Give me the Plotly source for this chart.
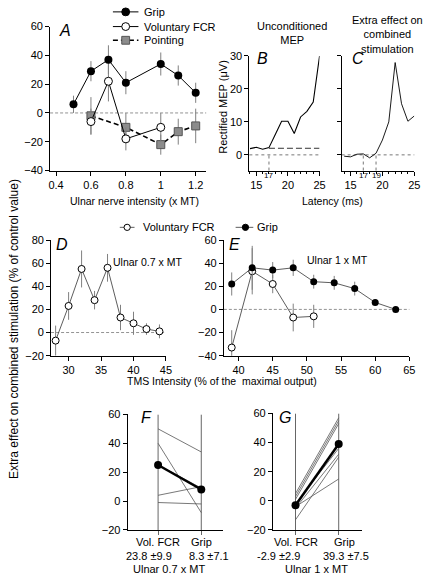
import plotly.graph_objects as go

W, H = 435, 582
def px(x): return x / W
def py(y): return 1 - y / H

FONT = "Liberation Sans, Arial, Helvetica, sans-serif"
ERRC = "#808080"

# ---------------- Panel A ----------------
a_grip_x = [0.5, 0.6, 0.7, 0.8, 1.0, 1.1, 1.2]
a_grip_y = [6, 29, 37, 21, 34, 26, 14]
a_grip_err = [6, 7, 10, 8, 8, 7, 7]
a_fcr_x = [0.6, 0.7, 0.8, 1.0]
a_fcr_y = [-6, 22, -18, -10]
a_fcr_err = [9, 14, 8, 10]
a_point_x = [0.6, 0.8, 1.0, 1.1, 1.2]
a_point_y = [-2, -10, -22, -13, -9]
a_point_err = [13, 10, 7, 9, 12]
a_xticks = [0.4, 0.6, 0.8, 1.0, 1.2]
a_xticklabels = ["0.4", "0.6", "0.8", "1", "1.2"]

# ---------------- Panels B, C ----------------
b_lat = [14, 15, 16, 17, 18, 19, 20, 21, 22, 23, 24, 25]
b_mep = [1.9, 2.3, 1.7, 2.2, 6.2, 10.2, 10.2, 6.5, 11.5, 13.2, 16, 30]
c_lat = [14, 15, 16, 17, 18, 19, 20, 21, 22, 23, 24, 25]
c_eff = [-0.4, -0.6, 0.2, 0.3, -0.9, 0.5, 4.5, 10, 28, 15.5, 10.2, 11.8]
b_baseline = 2.0
b_onset = 17
c_window = [17, 19]

# ---------------- Panel D ----------------
d_x = [28, 30, 32, 34, 36, 38, 40, 42, 44]
d_y = [-7, 23, 55, 28, 56, 13, 8, 3, 1]
d_err = [13, 12, 16, 8, 12, 11, 10, 5, 6]

# ---------------- Panel E ----------------
e_grip_x = [39, 42, 45, 48, 51, 54, 57, 60, 63]
e_grip_y = [22, 36, 34, 36, 24, 23, 18, 6, 0]
e_grip_err = [10, 19, 7, 7, 6, 6, 6, 2, 1]
e_fcr_x = [39, 42, 45, 48, 51]
e_fcr_y = [-33, 33, 22, -7, -6]
e_fcr_err = [15, 20, 8, 12, 10]

# ---------------- Panels F, G ----------------
cond_x = [1, 2]
f_vol = [50, 40, 4, -1, 25]
f_grip = [34, -8, 10, -2, 9]
f_mean = [25, 8]
g_vol = [5, 3, 1, -2, -5, -13, -4]
g_grip = [57, 55, 53, 36, 32, 30, 15]
g_mean = [-3, 39]

fig = go.Figure()

def err(vals):
    return dict(type="data", array=vals, visible=True, color=ERRC, thickness=1, width=0)

# A traces
fig.add_trace(go.Scatter(x=a_point_x, y=a_point_y, error_y=err(a_point_err), mode="lines+markers",
                         name="Pointing", line=dict(color="black", width=1.6, dash="5px,3px"),
                         marker=dict(size=8, color="#8c8c8c", symbol="square", line=dict(color="#555555", width=1)),
                         xaxis="x", yaxis="y"))
fig.add_trace(go.Scatter(x=a_fcr_x, y=a_fcr_y, error_y=err(a_fcr_err), mode="lines+markers",
                         name="Voluntary FCR", line=dict(color="black", width=1),
                         marker=dict(size=8, color="white", symbol="circle", line=dict(color="black", width=1)),
                         xaxis="x", yaxis="y"))
fig.add_trace(go.Scatter(x=a_grip_x, y=a_grip_y, error_y=err(a_grip_err), mode="lines+markers",
                         name="Grip", line=dict(color="black", width=1),
                         marker=dict(size=8, color="black", symbol="circle"),
                         xaxis="x", yaxis="y"))

# B, C traces
fig.add_trace(go.Scatter(x=b_lat, y=b_mep, mode="lines", line=dict(color="black", width=1.1),
                         name="Unconditioned MEP", xaxis="x2", yaxis="y2"))
fig.add_trace(go.Scatter(x=c_lat, y=c_eff, mode="lines", line=dict(color="black", width=0.9),
                         name="Extra effect", xaxis="x3", yaxis="y3"))

# D trace
fig.add_trace(go.Scatter(x=d_x, y=d_y, error_y=err(d_err), mode="lines+markers",
                         name="Voluntary FCR", line=dict(color="#333333", width=0.8),
                         marker=dict(size=7, color="white", line=dict(color="black", width=1)),
                         xaxis="x4", yaxis="y4"))

# E traces
fig.add_trace(go.Scatter(x=e_fcr_x, y=e_fcr_y, error_y=err(e_fcr_err), mode="lines+markers",
                         name="Voluntary FCR", line=dict(color="#333333", width=0.8),
                         marker=dict(size=7, color="white", line=dict(color="black", width=1)),
                         xaxis="x5", yaxis="y5"))
fig.add_trace(go.Scatter(x=e_grip_x, y=e_grip_y, error_y=err(e_grip_err), mode="lines+markers",
                         name="Grip", line=dict(color="#333333", width=0.8),
                         marker=dict(size=7, color="black"),
                         xaxis="x5", yaxis="y5"))

# F traces
for v, g in zip(f_vol, f_grip):
    fig.add_trace(go.Scatter(x=cond_x, y=[v, g], mode="lines", line=dict(color="#555555", width=0.8),
                             xaxis="x6", yaxis="y6"))
fig.add_trace(go.Scatter(x=cond_x, y=f_mean, mode="lines+markers", line=dict(color="black", width=2.5),
                         marker=dict(size=8, color="black"), xaxis="x6", yaxis="y6"))
# G traces
for v, g in zip(g_vol, g_grip):
    fig.add_trace(go.Scatter(x=cond_x, y=[v, g], mode="lines", line=dict(color="#555555", width=0.8),
                             xaxis="x7", yaxis="y7"))
fig.add_trace(go.Scatter(x=cond_x, y=g_mean, mode="lines+markers", line=dict(color="black", width=2.5),
                         marker=dict(size=8, color="black"), xaxis="x7", yaxis="y7"))

def xax(dom, rng, anchor, **kw):
    d = dict(domain=[px(dom[0]), px(dom[1])], range=rng, anchor=anchor, showline=True,
             linecolor="black", linewidth=1, ticks="outside", ticklen=4, tickcolor="black",
             showgrid=False, zeroline=False, tickfont=dict(size=11, color="black", family=FONT))
    d.update(kw)
    return d

def yax(dom, rng, anchor, **kw):
    d = dict(domain=[py(dom[1]), py(dom[0])], range=rng, anchor=anchor, showline=True,
             linecolor="black", linewidth=1, ticks="outside", ticklen=4, tickcolor="black",
             showgrid=False, zeroline=False, tickfont=dict(size=11, color="black", family=FONT))
    d.update(kw)
    return d

minor_ms = dict(ticks="outside", ticklen=2.5, dtick=1, tick0=0, tickcolor="black")

fig.update_layout(
    width=W, height=H, margin=dict(l=0, r=0, t=0, b=0),
    paper_bgcolor="white", plot_bgcolor="white", showlegend=False,
    font=dict(family=FONT, size=11, color="black"),
    xaxis=xax((49, 208), [0.366, 1.26], "y", tickvals=a_xticks, ticktext=a_xticklabels),
    yaxis=yax((21, 168), [-40, 60], "x", tickvals=[-40, -20, 0, 20, 40, 60]),
    xaxis2=xax((252, 323.5), [13.9, 25], "y2", tickvals=[15, 20, 25], minor=minor_ms),
    yaxis2=yax((51, 168), [-4.75, 30], "x2", tickvals=[0, 10, 20, 30]),
    xaxis3=xax((346, 420), [13.6, 25], "y3", tickvals=[15, 20, 25], minor=minor_ms),
    yaxis3=yax((51, 168), [-4.75, 30], "x3", tickvals=[0, 10, 20, 30], showticklabels=False),
    xaxis4=xax((50, 167), [27.3, 45], "y4", tickvals=[30, 35, 40, 45]),
    yaxis4=yax((239, 357), [-20, 80], "x4", tickvals=[-20, 0, 20, 40, 60, 80]),
    xaxis5=xax((226, 415), [37.85, 65], "y5", tickvals=[40, 45, 50, 55, 60, 65]),
    yaxis5=yax((239, 357), [-40, 60], "x5", tickvals=[-40, -20, 0, 20, 40, 60]),
    xaxis6=xax((128, 225), [0.295, 2.5], "y6", tickvals=cond_x, showticklabels=False, tickcolor="#666666"),
    yaxis6=yax((417, 535), [-20, 60], "x6", tickvals=[-20, 0, 20, 40, 60]),
    xaxis7=xax((276, 367), [0.477, 2.545], "y7", tickvals=cond_x, showticklabels=False, tickcolor="#666666"),
    yaxis7=yax((416, 535), [-20, 60], "x7", tickvals=[-20, 0, 20, 40, 60]),
)

shapes = []
zero_dash = dict(color="#777777", width=0.8, dash="3px,2px")
for xa, ya in [("x", "y"), ("x4", "y4"), ("x5", "y5")]:
    shapes.append(dict(type="line", xref=xa + " domain", yref=ya, x0=0, x1=1, y0=0, y1=0, line=zero_dash, layer="below"))
dot = dict(color="#777777", width=1, dash="dot")
for xa, ya in [("x2", "y2"), ("x3", "y3")]:
    shapes.append(dict(type="line", xref=xa + " domain", yref=ya, x0=0, x1=1, y0=0, y1=0, line=dot, layer="below"))
shapes.append(dict(type="line", xref="x2", yref="y2", x0=b_onset, x1=25, y0=b_baseline, y1=b_baseline,
                   line=dict(color="#333333", width=1, dash="6px,3px")))
shapes.append(dict(type="line", xref="x2", yref="y2 domain", x0=b_onset, x1=b_onset, y0=0, y1=4.75 / 34.75, line=dot))
for v in c_window:
    shapes.append(dict(type="line", xref="x3", yref="y3 domain", x0=v, x1=v, y0=0, y1=4.75 / 34.75, line=dot))
for xa, ya in [("x6", "y6"), ("x7", "y7")]:
    for c in cond_x:
        shapes.append(dict(type="line", xref=xa, yref=ya, x0=c, x1=c, y0=-20, y1=60,
                           line=dict(color="#666666", width=1), layer="below"))

# ---- hand-drawn legend keys (paper pixels) ----
def key_line(x0, x1, y, dash="solid", width=1, color="black"):
    shapes.append(dict(type="line", xref="paper", yref="paper", x0=px(x0), x1=px(x1), y0=py(y), y1=py(y),
                       line=dict(color=color, width=width, dash=dash)))
def key_circle(cx, cy, r, fill):
    shapes.append(dict(type="circle", xref="paper", yref="paper", x0=px(cx - r), x1=px(cx + r),
                       y0=py(cy + r), y1=py(cy - r), fillcolor=fill, line=dict(color="black", width=1)))
def key_square(cx, cy, r, fill):
    shapes.append(dict(type="rect", xref="paper", yref="paper", x0=px(cx - r), x1=px(cx + r),
                       y0=py(cy + r), y1=py(cy - r), fillcolor=fill, line=dict(color="#555555", width=1)))

key_line(113, 139, 6)
key_circle(126, 6, 4, "black")
key_line(113, 139, 21)
key_circle(126, 21, 4, "white")
key_line(113, 139, 35, dash="5px,3px", width=1.6)
key_square(126, 35, 4, "#8c8c8c")
key_line(120, 135, 226, color="#333333", width=0.8)
key_circle(127.5, 226, 3.2, "white")
key_line(238, 256, 226, color="#333333", width=0.8)
key_circle(248, 226, 3.2, "black")
fig.update_layout(shapes=shapes)

def ann(text, x, y, size=11, angle=0, xanchor="center", yanchor="middle", xref="paper", yref="paper"):
    return dict(text=text, x=x, y=y, xref=xref, yref=yref, showarrow=False, textangle=angle,
                font=dict(size=size, family=FONT, color="black"), xanchor=xanchor, yanchor=yanchor)

anns = [
    ann("Grip", px(143), py(6), size=11, xanchor="left"),
    ann("Voluntary FCR", px(143), py(21), size=11, xanchor="left"),
    ann("Pointing", px(143), py(35), size=11, xanchor="left"),
    ann("Voluntary FCR", px(142), py(226), size=11, xanchor="left"),
    ann("Grip", px(258), py(226), size=11, xanchor="left"),
    ann("<i>A</i>", px(64), py(25), size=16),
    ann("<i>B</i>", px(265), py(54), size=16),
    ann("<i>C</i>", px(363), py(54), size=16),
    ann("<i>D</i>", px(61), py(244), size=16),
    ann("<i>E</i>", px(237), py(244), size=16),
    ann("<i>F</i>", px(147), py(420), size=16),
    ann("<i>G</i>", px(288), py(420), size=16),
    ann("Ulnar nerve intensity (x MT)", px(135), py(199), size=10.5),
    ann("Latency (ms)", px(337), py(199), size=10.5),
    ann("Unconditioned<br>MEP", px(295), py(28), size=11),
    ann("Extra effect on<br>combined<br>stimulation", px(393), py(29), size=11),
    ann("Rectified MEP (μV)", px(225), py(103), size=11, angle=-90),
    ann("Extra effect on combined stimulation (% of control value)", px(12), py(330), size=12, angle=-90),
    ann("Ulnar 0.7 x MT", px(148), py(261), size=10.5),
    ann("Ulnar 1 x MT", px(342), py(259), size=10.5),
    ann("TMS Intensity (% of the  maximal output)", px(224), py(383), size=10.5),
    ann("17", b_onset, py(173), size=8, xref="x2"),
    ann(str(c_window[0]), c_window[0], py(173), size=8, xref="x3"),
    ann(str(c_window[1]), c_window[1], py(173), size=8, xref="x3"),
    ann("Vol. FCR", px(159), py(547), size=11),
    ann("Grip", px(203), py(547), size=11),
    ann("23.8 ±9.9", px(150), py(562), size=11),
    ann("8.3 ±7.1", px(211), py(562), size=11),
    ann("Ulnar 0.7 x MT", px(170), py(575), size=11),
    ann("Vol. FCR", px(299), py(547), size=11),
    ann("Grip", px(349), py(547), size=11),
    ann("-2.9 ±2.9", px(282), py(562), size=11),
    ann("39.3 ±7.5", px(350), py(562), size=11),
    ann("Ulnar 1 x MT", px(320), py(575), size=11),
]
fig.update_layout(annotations=anns)

fig.write_html("out.html", config={"displayModeBar": False},
               post_script="document.body.style.margin='0';document.body.style.padding='0';"
                           "document.documentElement.style.overflow='hidden';")
